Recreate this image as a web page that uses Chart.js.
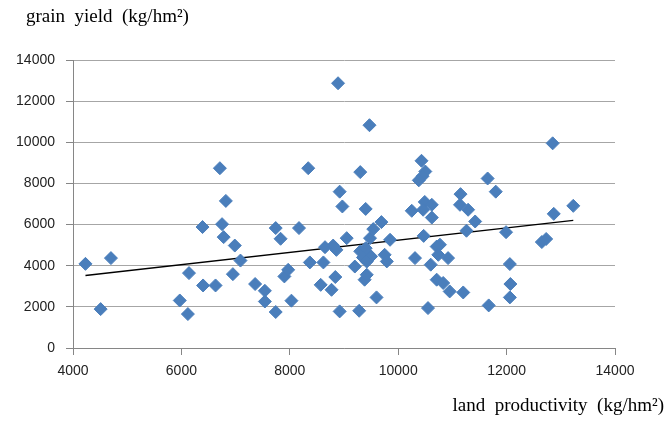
<!DOCTYPE html>
<html>
<head>
<meta charset="utf-8">
<script src="https://cdn.jsdelivr.net/npm/chart.js@4/dist/chart.umd.min.js"></script>
<style>
  html, body { margin: 0; padding: 0; background: #fff; }
  #wrap { width: 670px; height: 421px; }
</style>
</head>
<body>
<div id="wrap"><canvas id="myChart" width="670" height="421"></canvas></div>
<script>
// land productivity (x) and grain yield (y), kg/hm2
var landProductivity = [
    4230,4510,4700,5970,6120,6140,6390,6400,6630,6710,
    6750,6780,6820,6950,6985,7090,7360,7540,7540,7740,
    7740,7830,7900,7970,8030,8170,8340,8370,8570,8620,
    8650,8770,8800,8840,8860,8890,8920,8920,8970,9050,
    9200,9300,9280,9400,9470,9380,9420,9480,9540,9600,
    9690,9750,9790,9850,9300,9400,9450,9350,9500,9420,
    10250,10490,10620,10460,10620,11150,11140,11290,11420,11260,
    11800,11650,11990,12870,13230,12650,12730,10470,10710,10770,
    10740,10920,10310,10600,12060,10710,10830,10950,11200,12070,
    12060,10550,11670,12850,10430,10500,10450,10380
];
var grainYield = [
    4090,1890,4370,2310,1650,3640,5880,3040,3040,8740,
    6020,5390,7150,3590,4980,4250,3110,2780,2260,5830,
    1750,5310,3480,3800,2300,5830,8740,4160,3070,4160,
    4900,2830,4980,3450,4770,12870,1780,7600,6880,5340,
    3960,8550,1810,6760,10830,3320,3560,5340,5780,2460,
    6120,4530,4210,5260,4700,4850,4550,4400,4450,4200,
    6670,7100,6960,6720,6340,7480,6960,6720,6150,5700,
    7600,8240,5630,6520,6910,5150,5300,5450,4930,5020,
    4530,4370,4370,4050,4080,3320,3160,2750,2700,3110,
    2460,1940,2070,9950,9100,8580,8350,8150
];
// trend line end points
var trendX = [4230, 13230];
var trendY = [3525, 6200];

var xTicks = [4000, 6000, 8000, 10000, 12000, 14000];
var yTicks = [0, 2000, 4000, 6000, 8000, 10000, 12000, 14000];

var yTitle = 'grain  yield  (kg/hm\u00B2)';
var xTitle = 'land  productivity  (kg/hm\u00B2)';

function toPoints(xs, ys){
    return xs.map(function(v, i){ return {x: v, y: ys[i]}; });
}

var textPlugin = {
    id: 'axisTexts',
    afterDraw: function(chart){
        var ctx = chart.ctx;
        ctx.save();
        ctx.fillStyle = '#000';
        ctx.font = '19px "Liberation Serif", "Times New Roman", serif';
        ctx.textBaseline = 'alphabetic';
        ctx.textAlign = 'left';
        ctx.fillText(yTitle, 26, 22);
        ctx.textAlign = 'right';
        ctx.fillText(xTitle, 664, 411);
        ctx.restore();
    }
};

var tickFont = { family: '"Liberation Sans", Arial, sans-serif', size: 14 };

var ctx = document.getElementById('myChart').getContext('2d');
var myChart = new Chart(ctx, {
    type: 'scatter',
    data: {
        datasets: [{
            data: toPoints(landProductivity, grainYield),
            pointStyle: 'rectRot',
            pointRadius: 6.5,
            pointHoverRadius: 6.5,
            backgroundColor: '#4A7EBB',
            borderColor: '#4A7EBB',
            borderWidth: 1
        }, {
            type: 'line',
            data: toPoints(trendX, trendY),
            borderColor: '#000',
            borderWidth: 1.3,
            pointRadius: 0,
            fill: false,
            tension: 0
        }]
    },
    options: {
        responsive: false,
        animation: false,
        events: [],
        layout: { padding: { top: 60, right: 55, left: 0, bottom: 0 } },
        plugins: {
            legend: { display: false },
            tooltip: { enabled: false }
        },
        scales: {
            x: {
                type: 'linear',
                min: 4000, max: 14000,
                afterFit: function(s){ s.height = 73; },
                afterBuildTicks: function(s){ s.ticks = xTicks.map(function(v){ return {value: v}; }); },
                grid: { drawOnChartArea: false, drawTicks: true, tickLength: 7, color: '#868686' },
                border: { color: '#868686', width: 1 },
                ticks: {
                    padding: 8,
                    color: '#222',
                    font: tickFont,
                    maxRotation: 0,
                    callback: function(v){ return String(v); }
                }
            },
            y: {
                min: 0, max: 14000,
                afterFit: function(s){ s.width = 73; },
                afterBuildTicks: function(s){ s.ticks = yTicks.map(function(v){ return {value: v}; }); },
                grid: { color: '#A6A6A6', tickLength: 7, tickColor: '#868686' },
                border: { color: '#868686', width: 1 },
                ticks: {
                    padding: 11,
                    color: '#222',
                    font: tickFont,
                    callback: function(v){ return String(v); }
                }
            }
        }
    },
    plugins: [textPlugin]
});
</script>
</body>
</html>
